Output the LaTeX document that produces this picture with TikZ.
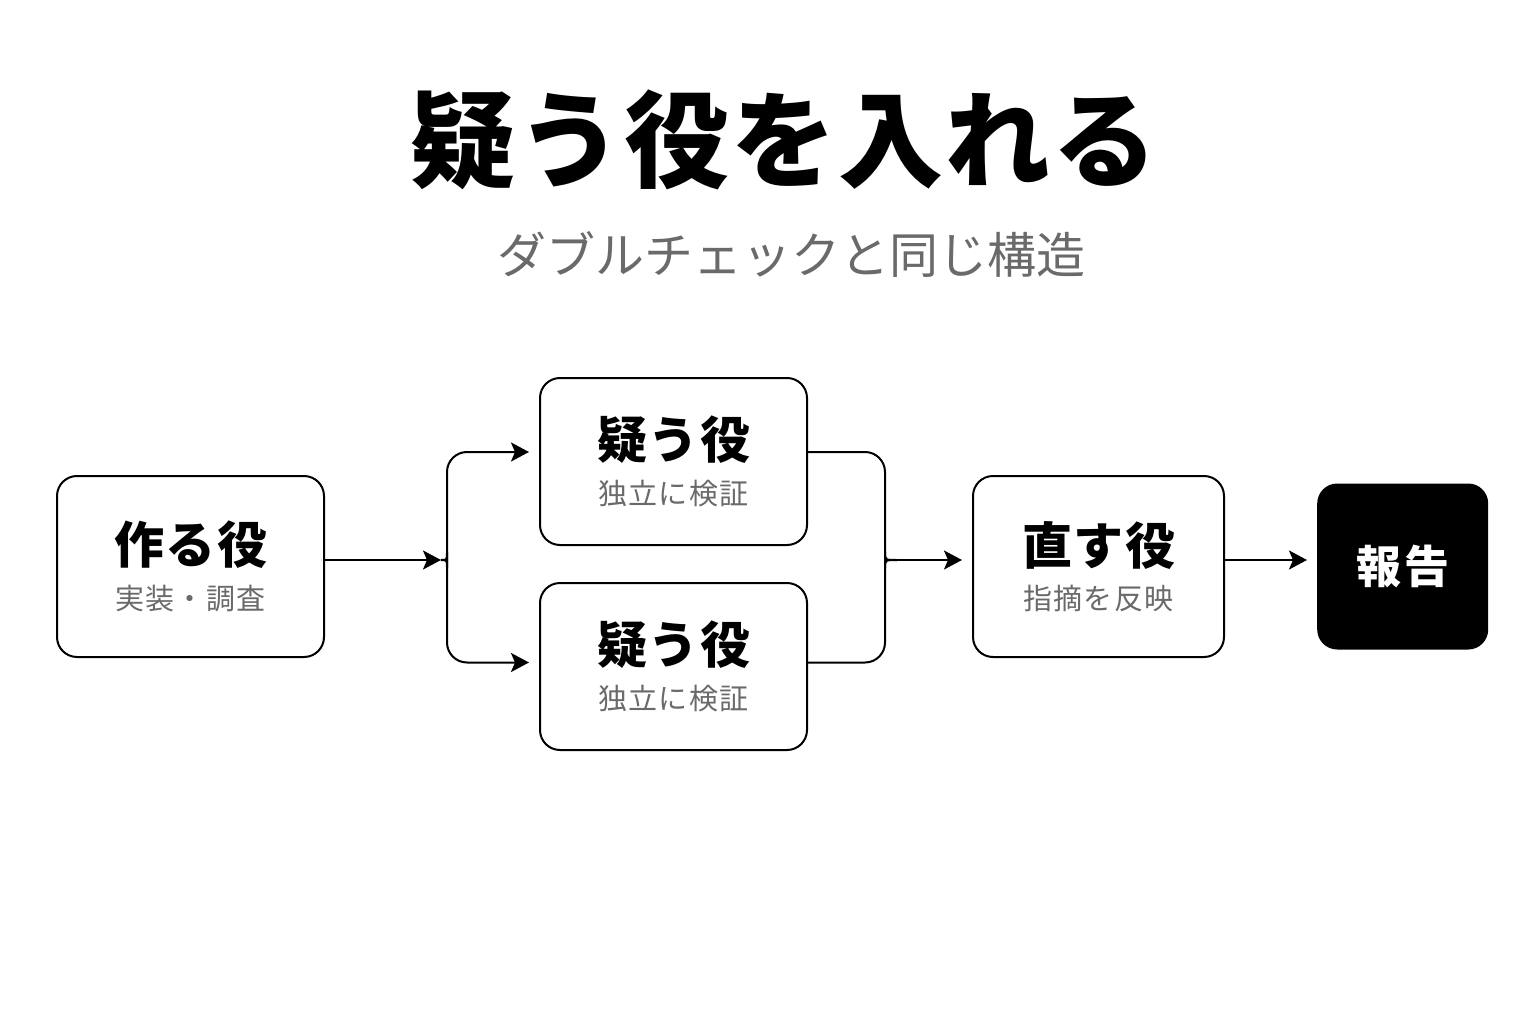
\documentclass[tikz,border=0pt]{standalone}
\usepackage{fontspec}
\setmainfont{Noto Sans CJK JP}
\usetikzlibrary{positioning}
\usetikzlibrary{arrows.meta}

\definecolor{taskgray}{HTML}{6A6A6A}
\newcommand{\rolehead}[1]{{\bfseries\fontsize{50}{50}\selectfont\addfontfeatures{LetterSpace=3}#1}}
\newcommand{\roletask}[1]{{\color{taskgray}\fontsize{29}{29}\selectfont\addfontfeatures{LetterSpace=4}#1}}

\begin{document}
\begin{tikzpicture}
		[x=1pt, y=-1pt,
		role/.style={draw=black, line width=2pt, rounded corners=20pt, fill=white, align=center,
			minimum width=267pt, minimum height=181pt, inner sep=0pt, font=\fontsize{29}{29}\selectfont},
		goal/.style={fill=black, rounded corners=20pt, text=white, minimum width=171pt, minimum height=166pt,
			font=\bfseries\fontsize{45}{45}\selectfont\addfontfeatures{LetterSpace=6}},
		flow/.style={line width=2pt, -{Stealth[length=18pt, width=19pt, inset=4pt]}},
		branch/.style={line width=2pt, rounded corners=20pt}]
		\useasboundingbox[fill=white] (0,0) rectangle (1536,1024);

		\node[font=\bfseries\fontsize{105}{105}\selectfont\addfontfeatures{LetterSpace=2}] (title) at (784,140) {疑う役を入れる};
		\node[text=taskgray, font=\fontsize{49}{49}\selectfont] (subtitle) at (791,255) {ダブルチェックと同じ構造};

		\node[role] (make) at (190.5,566.5) {\rolehead{作る役}\\[15pt]\roletask{実装・調査}};
		\node[role, minimum height=167pt] (check1) at (673.5,461.5) {\rolehead{疑う役}\\[15pt]\roletask{独立に検証}};
		\node[role, minimum height=167pt, below=36pt of check1] (check2) {\rolehead{疑う役}\\[15pt]\roletask{独立に検証}};
		\node[role, minimum width=251pt] (fix) at (1098.5,566.5) {\rolehead{直す役}\\[15pt]\roletask{指摘を反映}};
		\node[goal, right=92pt of fix] (report) {報告};

		\coordinate (fork) at ([shift={(116,-6.5)}]make.east);
		\coordinate (merge) at ([shift={(-75,-6.5)}]fix.west);

		\draw[flow] ([shift={(0,-6.5)}]make.east) -- (fork);
		\draw[branch, flow, shorten >=10pt] (fork) .. controls +(6,0) .. +(6,-12) |- ([shift={(0,-9.5)}]check1.west);
		\draw[branch, flow, shorten >=10pt] (fork) .. controls +(6,0) .. +(6,12) |- ([shift={(0,-4)}]check2.west);
		\draw[branch] ([shift={(0,-9.5)}]check1.east) -| ([shift={(-12,-12)}]merge) .. controls +(0,12) .. (merge);
		\draw[branch] ([shift={(0,-4)}]check2.east) -| ([shift={(-12,12)}]merge) .. controls +(0,-12) .. (merge);
		\draw[flow, shorten >=10pt] (merge) -- ([shift={(0,-6.5)}]fix.west);
		\draw[flow, shorten >=10pt] ([shift={(0,-6.5)}]fix.east) -- ([shift={(0,-6.5)}]report.west);
	\end{tikzpicture}
\end{document}
